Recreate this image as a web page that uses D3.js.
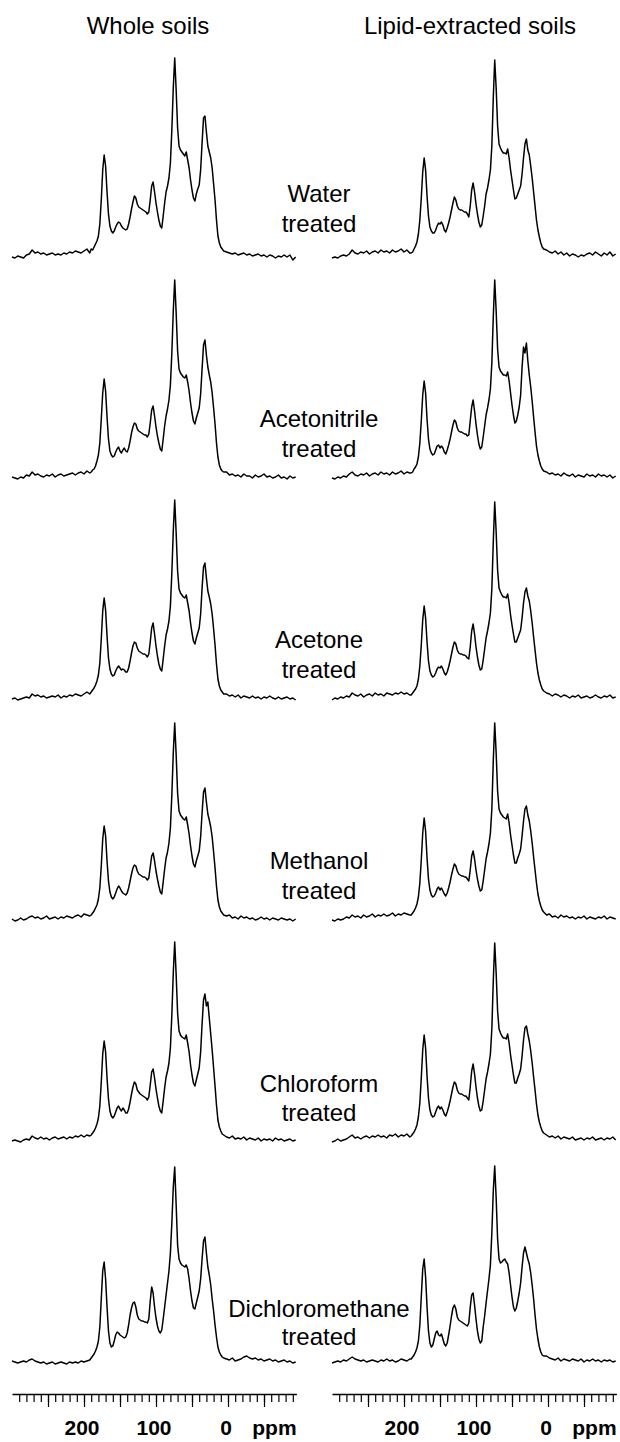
<!DOCTYPE html>
<html><head><meta charset="utf-8">
<script src="https://cdn.jsdelivr.net/npm/d3@7"></script>
<style>body{margin:0;background:#fff}svg{display:block}</style>
</head><body>
<svg id="chart" width="620" height="1442"></svg>
<script>
// ---------- DATA ----------
const ppmGrid = [
 300,296,292,288,284,280,276,272,268,264,260,256,252,248,244,240,236,232,228,224,220,216,212,208,204,200,196,192,
 190,188,186,184,182,180,178,176,174,172,
 170,168,166,164,162,160,158,156,154,152,
 150,148,146,144,142,140,138,136,134,132,
 130,128,126,124,122,120,118,116,114,112,
 110,108,106,104,102,100,98,96,94,92,
 90,88,86,84,82,80,78,76,74,72,
 70,68,66,64,62,60,58,56,54,52,
 50,48,46,44,42,40,38,36,34,32,
 30,28,26,24,22,20,18,16,14,12,
 10,8,6,
 2,-2,-6,-10,-14,-18,-22,-26,-30,-34,-38,-42,-46,-50,-54,-58,-62,-66,-70,-74,-78,-82,-86,-90,-94
];
const columnTitles = ["Whole soils", "Lipid-extracted soils"];
const treatmentNames = ["Water", "Acetonitrile", "Acetone", "Methanol", "Chloroform", "Dichloromethane"];
const treatedWord = "treated";
const axisTickLabels = [200, 100, 0];
const axisUnit = "ppm";

const wholeWater = [
 1,0,2,1,0,3,4,8,5,6,4,5,3,4,5,3,4,3,5,4,6,5,7,6,5,7,9,5,
 9,8,11,14,17,22,34,58,88,103,
 92,66,44,32,27,25,27,31,34,36,
 35,32,30,29,28,29,34,41,49,56,
 62,60,54,51,50,49,48,47,46,44,
 46,58,72,76,66,55,46,38,32,30,
 42,55,66,72,80,95,128,170,200,168,
 130,112,108,106,104,102,106,98,90,78,
 68,60,57,64,69,73,88,115,140,142,
 126,112,106,100,90,74,58,38,22,15,
 11,9,7,
 6,5,4,5,3,4,5,3,4,2,3,4,2,3,1,3,2,0,2,1,3,1,3,-2,1
];
const lipidWater = [
 0,1,0,2,3,2,4,8,5,4,6,5,7,4,6,7,5,8,6,7,5,8,6,7,9,6,8,5,
 5,6,9,12,16,24,38,60,86,100,
 88,62,42,31,27,25,25,28,32,35,
 34,36,33,28,26,30,35,41,48,55,
 61,58,52,49,48,48,47,46,46,44,
 41,52,68,75,66,54,44,36,31,33,
 42,52,64,70,78,88,112,160,198,170,
 132,114,110,107,105,105,104,109,100,88,
 78,68,59,60,64,68,72,84,100,114,
 119,108,103,92,80,66,52,38,28,21,
 15,11,9,
 8,6,5,7,4,6,3,5,2,4,3,1,3,2,4,5,3,6,4,2,5,3,6,2,4
];
const wholeAcetonitrile = [
 2,1,0,2,1,4,3,7,4,5,3,2,4,3,5,2,4,5,3,4,5,6,4,6,7,5,8,6,
 7,9,10,13,18,24,36,60,86,100,
 88,62,40,28,24,22,23,27,30,32,
 28,26,29,31,28,27,31,38,46,52,
 56,55,50,48,47,46,45,44,44,42,
 45,56,69,73,63,52,43,36,30,28,
 40,53,63,70,79,94,126,168,199,166,
 128,110,106,104,102,101,104,97,88,76,
 66,58,55,61,66,71,85,110,134,139,
 124,112,104,97,86,71,55,36,22,14,
 10,8,7,
 7,4,5,3,4,2,5,3,3,1,4,2,3,5,2,3,1,2,4,1,2,0,3,1,2
];
const lipidAcetonitrile = [
 1,0,2,1,3,2,5,7,4,3,5,4,6,3,5,6,4,7,5,6,4,7,5,6,8,5,7,6,
 6,7,10,12,15,22,36,58,84,98,
 86,60,40,30,26,24,25,29,33,34,
 31,33,31,27,25,29,34,40,47,54,
 59,57,51,48,47,47,46,45,45,43,
 44,58,72,79,68,55,44,35,30,32,
 42,53,64,71,79,90,116,162,199,168,
 130,112,108,106,104,104,103,107,98,86,
 74,64,56,58,64,72,84,112,132,126,
 136,118,104,92,78,62,47,33,24,18,
 13,10,8,
 7,5,6,4,5,3,6,4,3,5,2,4,3,2,5,3,4,2,5,3,4,2,4,1,3
];
const wholeAcetone = [
 1,2,0,1,2,3,2,6,4,5,3,4,2,3,4,3,5,2,4,3,5,4,6,5,4,6,8,6,
 8,10,12,15,19,25,37,61,89,102,
 90,64,42,31,26,24,25,29,32,34,
 32,30,31,30,28,28,32,39,47,54,
 58,57,52,49,48,47,46,46,45,43,
 46,58,72,77,66,54,44,36,31,29,
 41,54,65,71,79,94,127,169,200,167,
 129,111,107,105,103,102,105,97,89,77,
 67,59,56,62,67,72,86,112,133,137,
 122,109,103,96,86,71,55,36,21,14,
 10,8,6,
 6,4,5,3,5,2,4,3,2,4,2,3,1,3,2,4,2,1,3,1,2,3,1,2,0
];
const lipidAcetone = [
 0,2,1,3,2,4,3,7,5,4,6,3,5,6,4,7,5,6,4,7,6,5,7,6,8,6,7,5,
 5,7,9,11,14,21,34,55,80,94,
 82,58,39,29,25,23,24,27,31,33,
 32,34,31,27,25,28,33,39,46,53,
 58,56,50,47,46,46,45,45,44,42,
 41,53,69,76,66,53,43,35,30,31,
 40,51,62,69,77,87,111,158,198,168,
 130,112,108,105,103,103,102,106,97,85,
 75,66,58,58,62,66,70,82,97,108,
 112,104,99,89,77,63,50,37,27,20,
 15,11,9,
 7,6,4,6,5,3,5,4,2,4,3,5,2,3,4,2,3,5,3,2,4,3,5,2,3
];
const wholeMethanol = [
 2,0,1,3,1,2,4,5,3,4,2,3,5,2,3,4,2,4,3,5,4,3,5,6,4,7,6,5,
 6,8,10,13,16,22,33,55,82,95,
 85,60,40,29,24,22,24,28,32,35,
 33,30,28,27,26,28,33,40,47,53,
 56,55,50,47,46,45,44,44,43,41,
 43,54,65,68,60,50,42,35,29,27,
 39,52,63,69,78,93,126,168,198,166,
 128,110,106,104,102,101,104,96,87,75,
 65,57,54,60,65,70,84,108,129,133,
 119,107,101,94,84,69,53,35,21,14,
 10,8,6,
 5,6,3,4,2,5,3,4,2,3,1,2,4,2,3,1,3,2,1,3,2,1,2,0,2
];
const lipidMethanol = [
 1,0,2,1,2,4,3,6,4,5,3,6,4,5,7,4,6,5,7,5,6,8,5,7,6,8,7,6,
 6,8,10,13,17,24,38,61,88,103,
 90,63,42,31,26,24,25,28,32,34,
 31,33,30,27,25,28,33,39,46,52,
 57,55,50,47,46,45,45,44,44,42,
 40,51,65,70,62,51,42,35,30,31,
 40,51,62,69,77,88,112,160,198,168,
 130,112,108,106,104,103,102,107,98,86,
 76,66,58,58,63,67,72,85,100,112,
 115,106,100,90,78,64,51,38,27,20,
 15,11,9,
 6,7,4,5,3,6,4,5,3,4,2,4,3,5,2,4,3,2,4,3,5,2,4,3,2
];
const wholeChloroform = [
 1,2,1,0,2,3,2,6,4,3,5,3,4,2,4,5,3,4,5,3,5,4,6,5,7,5,7,6,
 7,9,11,14,18,24,36,60,88,101,
 90,64,43,31,26,24,26,30,34,36,
 33,31,34,32,29,29,33,40,48,55,
 60,58,52,50,48,47,46,45,44,42,
 45,57,70,73,64,53,44,36,31,29,
 41,54,65,71,79,94,127,169,200,167,
 129,111,107,105,104,103,107,99,90,77,
 67,59,56,62,68,74,90,118,142,148,
 136,140,124,108,92,74,56,37,22,15,
 11,8,7,
 5,4,6,3,4,3,5,2,4,3,2,4,1,3,2,3,1,4,2,3,1,2,3,1,2
];
const lipidChloroform = [
 0,1,3,1,2,3,5,7,4,5,3,5,6,4,6,5,7,5,6,4,7,6,8,5,7,6,8,5,
 6,8,10,13,17,25,39,64,92,107,
 94,66,44,32,27,25,26,30,34,36,
 33,35,32,28,26,30,35,41,48,55,
 60,58,52,49,48,48,47,46,46,44,
 42,55,71,78,68,55,44,36,31,32,
 41,52,63,70,78,88,113,161,199,169,
 131,113,109,106,104,104,103,108,99,87,
 77,67,59,59,64,68,73,86,102,114,
 116,108,101,91,79,65,52,38,27,20,
 15,11,9,
 7,5,6,4,6,3,5,4,3,5,2,3,4,2,4,3,5,2,3,4,2,4,3,5,2
];
const wholeDichloromethane = [
 2,1,0,1,2,1,3,4,2,1,0,1,-1,0,1,-1,0,1,0,-1,1,0,1,0,2,1,2,3,
 5,7,9,12,16,22,36,64,92,101,
 84,56,32,20,16,17,22,28,31,30,
 28,27,26,25,26,30,38,48,55,60,
 61,56,48,44,43,42,42,41,41,40,
 44,62,76,70,56,45,37,32,30,33,
 44,56,68,80,92,110,140,176,196,158,
 118,104,100,98,97,96,98,94,84,72,
 62,55,54,60,66,72,84,104,122,126,
 110,96,88,78,64,52,38,26,16,11,
 8,6,5,
 4,3,5,2,3,4,6,7,5,4,5,3,4,2,3,4,2,3,1,2,3,1,2,0,1
];
const lipidDichloromethane = [
 0,1,2,1,3,2,4,6,4,3,2,3,1,2,3,2,1,3,2,4,2,3,1,2,4,3,2,4,
 4,6,8,11,15,22,38,66,94,104,
 86,56,32,20,16,18,24,30,32,28,
 27,29,24,19,17,20,28,37,47,55,
 58,54,46,43,42,41,40,39,38,37,
 40,56,68,70,58,44,32,24,20,22,
 36,47,60,72,84,98,130,172,197,165,
 124,104,100,101,103,104,101,99,90,78,
 66,56,52,55,62,70,80,96,110,116,
 110,104,99,90,78,64,48,34,24,16,
 11,8,7,
 7,5,4,3,5,2,4,3,2,4,3,2,4,1,3,2,4,2,3,1,3,2,3,1,2
];

const wholeSpectra = [wholeWater, wholeAcetonitrile, wholeAcetone, wholeMethanol, wholeChloroform, wholeDichloromethane];
const lipidSpectra = [lipidWater, lipidAcetonitrile, lipidAcetone, lipidMethanol, lipidChloroform, lipidDichloromethane];

// ---------- LAYOUT ----------
const svg = d3.select("#chart");
const panelOffsets = [0, 320];
const rowBase = [258, 479, 700, 921, 1142, 1363];
const labelDy = [[-56, -26], [-52, -22], [-52, -22], [-52, -22], [-50, -21], [-46, -18]];
const axisY = 1394;
const FONT = "'Liberation Sans', Arial, Helvetica, sans-serif";

const xScales = panelOffsets.map(off => d3.scaleLinear().domain([300, -95]).range([12 + off, 296.4 + off]));

// titles
svg.selectAll("text.title").data(columnTitles).join("text")
  .attr("class", "title")
  .attr("x", (d, i) => i === 0 ? 148 : 470)
  .attr("y", 34)
  .attr("text-anchor", "middle")
  .attr("font-family", FONT).attr("font-size", 24)
  .text(d => d);

const line = (xs, ys) => d3.line().x(d => xs(d[0])).y(d => ys(d[1]));

[wholeSpectra, lipidSpectra].forEach((group, gi) => {
  const xs = xScales[gi];
  group.forEach((vals, ri) => {
    const ys = d3.scaleLinear().domain([0, 200]).range([rowBase[ri], rowBase[ri] - 200]);
    const pts = ppmGrid.map((p, k) => [p, vals[k]]);
    svg.append("path")
      .attr("d", line(xs, ys)(pts))
      .attr("fill", "none").attr("stroke", "#000")
      .attr("stroke-width", 1.5).attr("stroke-linejoin", "round");
  });
});

// treatment labels
treatmentNames.forEach((name, ri) => {
  const t = svg.append("text")
    .attr("text-anchor", "middle")
    .attr("font-family", FONT).attr("font-size", 24);
  t.append("tspan").attr("x", 319).attr("y", rowBase[ri] + labelDy[ri][0]).text(name);
  t.append("tspan").attr("x", 319).attr("y", rowBase[ri] + labelDy[ri][1]).text(treatedWord);
});

// axes
const minorTicks = d3.range(290, -91, -10);
const majorTicks = [250, 200, 150, 100, 50, 0, -50];
xScales.forEach((xs, gi) => {
  const gMinor = svg.append("g").attr("transform", `translate(0,${axisY})`)
    .call(d3.axisBottom(xs).tickValues(minorTicks).tickSize(8).tickSizeOuter(0).tickFormat(""));
  const gMajor = svg.append("g").attr("transform", `translate(0,${axisY})`)
    .call(d3.axisBottom(xs).tickValues(majorTicks).tickSize(13).tickSizeOuter(0).tickFormat(""));
  [gMinor, gMajor].forEach(g => {
    g.selectAll("line").attr("stroke", "#000").attr("stroke-width", 1.2);
    g.select(".domain").attr("stroke", "#000").attr("stroke-width", 1.5);
  });
  gMajor.select(".domain").remove();
  svg.selectAll(null).data(axisTickLabels).join("text")
    .attr("x", d => xs(d) - 2)
    .attr("y", 1435)
    .attr("text-anchor", "middle")
    .attr("font-family", FONT).attr("font-weight", "bold").attr("font-size", 21)
    .text(d => d);
  svg.append("text")
    .attr("x", xs(-95) - 22).attr("y", 1435)
    .attr("text-anchor", "middle")
    .attr("font-family", FONT).attr("font-weight", "bold").attr("font-size", 21)
    .text(axisUnit);
});
</script>
</body></html>
